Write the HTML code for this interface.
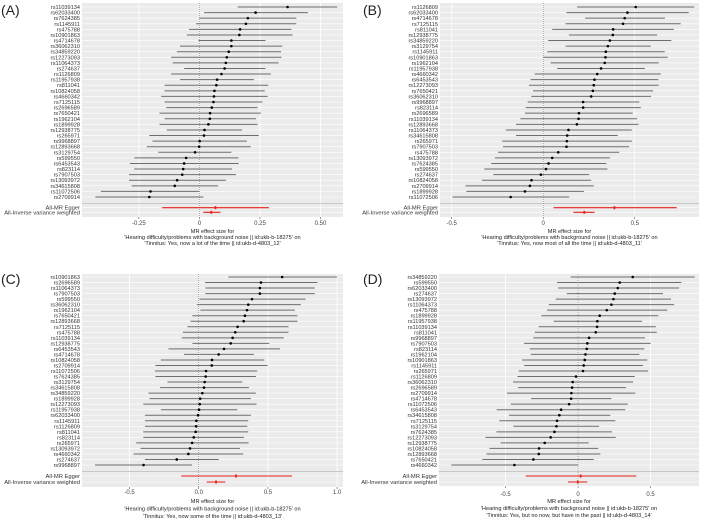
<!DOCTYPE html>
<html><head><meta charset="utf-8"><style>
body{margin:0;background:#fff;width:702px;height:523px;overflow:hidden}
svg{display:block}
text{font-family:"Liberation Sans",sans-serif}
</style></head><body>
<svg id="fig" width="702" height="523"></svg>
<script>
const snpsA=["rs11039134","rs62033400","rs7624385","rs1145911","rs475788","rs10901863","rs4714678","rs36062310","rs34859220","rs12273093","rs11064373","rs274637","rs1126809","rs11957938","rs811041","rs10824058","rs4660342","rs7125115","rs2696589","rs7650421","rs1962104","rs1899928","rs12938775","rs265971","rs9968897","rs12893668","rs3129754","rs599550","rs6453543","rs823114","rs7907503","rs13093972","rs34615808","rs11072506","rs2709914"];
const estA=[0.364,0.232,0.2,0.192,0.168,0.165,0.132,0.132,0.121,0.113,0.109,0.104,0.091,0.073,0.07,0.062,0.06,0.058,0.051,0.044,0.043,0.037,0.021,0.019,0.001,-0.001,-0.018,-0.055,-0.063,-0.067,-0.071,-0.092,-0.102,-0.202,-0.207];
const loA=[0.158,0.019,0,-0.014,-0.043,-0.052,-0.004,-0.08,-0.093,-0.117,-0.111,-0.063,-0.117,-0.08,-0.144,-0.144,-0.158,-0.144,-0.137,-0.165,-0.144,-0.165,-0.135,-0.207,-0.194,-0.217,-0.17,-0.269,-0.287,-0.269,-0.291,-0.291,-0.28,-0.407,-0.43];
const hiA=[0.569,0.448,0.4,0.4,0.38,0.385,0.273,0.342,0.337,0.339,0.327,0.273,0.295,0.225,0.284,0.27,0.282,0.26,0.24,0.254,0.234,0.24,0.176,0.245,0.196,0.212,0.132,0.161,0.162,0.135,0.151,0.109,0.077,0,0.016];
const sumA=[0.066,0.049], sumLoA=[-0.154,0.016], sumHiA=[0.287,0.087];
const ticksA=[-0.25,0,0.25,0.5], tickLabA=["-0.25","0","0.25","0.50"];

const snpsB=["rs1126809","rs62033400","rs4714678","rs7125115","rs811041","rs12938775","rs34859220","rs3129754","rs1145911","rs10901863","rs1962104","rs11957938","rs4660342","rs6453543","rs12273093","rs7650421","rs36062310","rs9968897","rs823114","rs2696589","rs11039134","rs12893668","rs11064373","rs34615808","rs265971","rs7907503","rs475788","rs13093972","rs7624385","rs599550","rs274637","rs10824058","rs2709914","rs1899928","rs11072506"];
const estB=[0.505,0.46,0.445,0.436,0.382,0.38,0.364,0.353,0.342,0.34,0.336,0.316,0.295,0.28,0.276,0.271,0.262,0.218,0.218,0.195,0.193,0.184,0.138,0.131,0.129,0.127,0.082,0.049,0.029,0.015,-0.013,-0.064,-0.073,-0.1,-0.178];
const loB=[0.185,0.127,0.229,0.122,0.049,0.14,0.027,0.122,0.022,0,0.04,0.076,-0.047,-0.069,-0.078,-0.056,-0.065,-0.085,-0.096,-0.1,-0.125,-0.149,-0.204,-0.149,-0.224,-0.22,-0.247,-0.264,-0.284,-0.322,-0.273,-0.335,-0.425,-0.42,-0.496];
const hiB=[0.825,0.795,0.665,0.751,0.713,0.622,0.7,0.587,0.664,0.68,0.631,0.555,0.642,0.629,0.631,0.6,0.589,0.525,0.533,0.489,0.513,0.52,0.484,0.407,0.484,0.469,0.415,0.364,0.345,0.351,0.251,0.262,0.276,0.222,0.142];
const sumB=[0.389,0.224], sumLoB=[0.056,0.165], sumHiB=[0.729,0.28];
const ticksB=[-0.5,0,0.5], tickLabB=["-0.5","0","0.5"];

const snpsC=["rs10901863","rs2696589","rs11064373","rs7907503","rs599550","rs36062310","rs1962104","rs7650421","rs12893668","rs7125115","rs475788","rs11039134","rs12938775","rs6453543","rs4714678","rs10824058","rs2709914","rs11072506","rs7624385","rs3129754","rs34615808","rs34859220","rs1899928","rs12273093","rs11957938","rs62033400","rs1145911","rs1126809","rs811041","rs823114","rs265971","rs13093972","rs4660342","rs274637","rs9968897"];
const estC=[0.603,0.45,0.442,0.442,0.385,0.358,0.349,0.334,0.325,0.281,0.264,0.245,0.231,0.183,0.144,0.096,0.094,0.053,0.05,0.043,0.038,0.026,0.01,0.007,0.002,-0.005,-0.017,-0.019,-0.022,-0.036,-0.048,-0.063,-0.075,-0.159,-0.399];
const loC=[0.214,0.046,0.048,0.048,0.005,-0.014,0.012,-0.046,-0.06,-0.082,-0.115,-0.123,-0.046,-0.219,-0.106,-0.274,-0.313,-0.317,-0.313,-0.226,-0.279,-0.363,-0.356,-0.401,-0.274,-0.389,-0.389,-0.389,-0.401,-0.401,-0.452,-0.421,-0.471,-0.389,-0.75];
const hiC=[1.0,0.858,0.839,0.839,0.772,0.738,0.695,0.714,0.714,0.649,0.649,0.615,0.51,0.587,0.399,0.474,0.498,0.423,0.413,0.315,0.363,0.413,0.377,0.418,0.279,0.377,0.358,0.351,0.358,0.327,0.361,0.298,0.322,0.144,-0.048];
const sumC=[0.269,0.125], sumLoC=[-0.127,0.058], sumHiC=[0.675,0.192];
const ticksC=[-0.5,0,0.5,1.0], tickLabC=["-0.5","0.0","0.5","1.0"];

const snpsD=["rs34859220","rs599550","rs62033400","rs274637","rs13093972","rs11064373","rs475788","rs1899928","rs11957938","rs11039134","rs811041","rs9968897","rs7907503","rs823114","rs1962104","rs10901863","rs1145911","rs265971","rs1126809","rs36062310","rs2696589","rs2709914","rs4714678","rs11072506","rs6453543","rs34615808","rs7125115","rs3129754","rs7624385","rs12273093","rs12938775","rs10824058","rs12893668","rs7650421","rs4660342"];
const estD=[0.377,0.287,0.274,0.253,0.244,0.23,0.198,0.149,0.133,0.131,0.122,0.076,0.064,0.06,0.051,0.046,0.039,0.034,-0.014,-0.037,-0.041,-0.046,-0.048,-0.062,-0.117,-0.129,-0.145,-0.149,-0.163,-0.189,-0.23,-0.269,-0.271,-0.308,-0.439];
const loD=[-0.051,-0.145,-0.138,-0.078,-0.154,-0.202,-0.214,-0.253,-0.168,-0.271,-0.299,-0.308,-0.372,-0.333,-0.326,-0.386,-0.372,-0.409,-0.418,-0.448,-0.414,-0.49,-0.324,-0.464,-0.561,-0.476,-0.543,-0.446,-0.563,-0.639,-0.533,-0.611,-0.632,-0.66,-0.874];
const hiD=[0.805,0.713,0.697,0.586,0.641,0.662,0.616,0.554,0.441,0.536,0.543,0.462,0.501,0.457,0.423,0.478,0.448,0.483,0.391,0.379,0.331,0.395,0.23,0.343,0.326,0.223,0.257,0.145,0.234,0.26,0.074,0.14,0.154,0.108,0];
const sumD=[0.018,-0.002], sumLoD=[-0.361,-0.069], sumHiD=[0.402,0.064];
const ticksD=[-0.5,0,0.5], tickLabD=["-0.5","0","0.5"];

const sumNames=["All-MR Egger","All-Inverse variance weighted"];
const outcomes=["'Tinnitus: Yes, now a lot of the time || id:ukb-d-4803_12'","'Tinnitus: Yes, now most of all the time || id:ukb-d-4803_11'","'Tinnitus: Yes, now some of the time || id:ukb-d-4803_13'","'Tinnitus: Yes, but no now, but have in the past || id:ukb-d-4803_14'"];
const panelLetters=["(A)","(B)","(C)","(D)"];

const NS="http://www.w3.org/2000/svg";
const svg=document.getElementById('fig');
function mk(tag,attrs,parent){const e=document.createElementNS(NS,tag);for(const k in attrs)e.setAttribute(k,attrs[k]);(parent||svg).appendChild(e);return e;}

function panel(idx,g,snps,est,lo,hi,sum,sumLo,sumHi,ticks,tickLab){
  const grp=mk('g',{});
  
  
  const x=v=>g.x0+(v-g.d0)/(g.d1-g.d0)*(g.x1-g.x0);
  const n=snps.length, step=(g.yl-g.yf)/(n-1);
  const bg=mk('rect',{x:g.x0,y:g.top,width:g.x1-g.x0,height:g.bot-g.top,fill:'#ebebeb'},grp);
  
  
  ticks.forEach(t=>mk('line',{x1:x(t),x2:x(t),y1:g.top,y2:g.bot,stroke:'#fff','stroke-width':0.8},grp));
  const rowY=i=>g.yf+i*step;
  const sY=[g.yl+g.s1,g.yl+g.s2];
  for(let i=0;i<n;i++)mk('line',{x1:g.x0,x2:g.x1,y1:rowY(i),y2:rowY(i),stroke:'#fff','stroke-width':0.6},grp);
  sY.forEach(y=>mk('line',{x1:g.x0,x2:g.x1,y1:y,y2:y,stroke:'#fff','stroke-width':0.6},grp));
  const sep=(g.yl+sY[0])/2+1;
  mk('line',{x1:g.x0,x2:g.x1,y1:sep,y2:sep,stroke:'#bbb','stroke-width':0.8},grp);
  mk('line',{x1:x(0),x2:x(0),y1:g.top,y2:g.bot,stroke:'#777','stroke-width':0.6,'stroke-dasharray':'1,1'},grp);
  for(let i=0;i<n;i++){
    const y=rowY(i);
    const bar=mk('line',{x1:x(lo[i]),x2:x(hi[i]),y1:y,y2:y,stroke:'#6e6e6e','stroke-width':1},grp);
    
    
    const pt=mk('circle',{cx:x(est[i]),cy:y,r:1.3,fill:'#000'},grp);
    
    
    const lb=mk('text',{x:g.x0-2,y:y+2,'text-anchor':'end','font-size':5.6,fill:'#333'},grp);
    lb.textContent=snps[i];
    
    
  }
  for(let j=0;j<2;j++){
    const y=sY[j];
    const sb=mk('line',{x1:x(sumLo[j]),x2:x(sumHi[j]),y1:y,y2:y,stroke:'#e8231f','stroke-width':1.1},grp);
    
    
    const sp=mk('rect',{x:x(sum[j])-0.9,y:y-1.5,width:1.8,height:3,fill:'#e8231f'},grp);
    
    
    const sl=mk('text',{x:g.x0-2,y:y+2,'text-anchor':'end','font-size':5.8,fill:'#333'},grp);
    sl.textContent=sumNames[j];
    
    
  }
  ticks.forEach((t,k)=>{
    mk('line',{x1:x(t),x2:x(t),y1:g.bot,y2:g.bot+2,stroke:'#333','stroke-width':0.5},grp);
    const tl=mk('text',{x:x(t),y:g.tickY,'text-anchor':'middle','font-size':6,fill:'#444'},grp);
    tl.textContent=tickLab[k];
    
    
  });
  const cx=(g.x0+g.x1)/2;
  const lines=["MR effect size for","'Hearing difficulty/problems with background noise || id:ukb-b-18275' on",outcomes[idx]];
  lines.forEach((s,k)=>{
    const t=mk('text',{x:cx,y:g.titY+k*g.titStep,'text-anchor':'middle','font-size':5.6,fill:'#222'},grp);
    t.textContent=s;
    
    
  });
  const pl=mk('text',{x:g.lx,y:g.ly,'font-size':14,fill:'#222'},grp);
  pl.textContent=panelLetters[idx];
  
  
}

panel(0,{x0:82,x1:343,d0:-0.485,d1:0.593,top:3,bot:217,yf:7,yl:197,s1:10.7,s2:15.3,tickY:225,titY:233,titStep:6,lx:1,ly:15},snpsA,estA,loA,hiA,sumA,sumLoA,sumHiA,ticksA,tickLabA);
panel(1,{x0:440,x1:699,d0:-0.564,d1:0.851,top:3,bot:217,yf:7,yl:197,s1:10.7,s2:15.3,tickY:225,titY:233,titStep:6,lx:363,ly:15},snpsB,estB,loB,hiB,sumB,sumLoB,sumHiB,ticksB,tickLabB);
panel(2,{x0:82,x1:343,d0:-0.844,d1:1.043,top:274,bot:487,yf:277,yl:465,s1:11,s2:17,tickY:494,titY:503,titStep:7.5,lx:1,ly:284},snpsC,estC,loC,hiC,sumC,sumLoC,sumHiC,ticksC,tickLabC);
panel(3,{x0:439,x1:699,d0:-0.959,d1:0.834,top:274,bot:486,yf:277,yl:465,s1:11,s2:17,tickY:496,titY:503,titStep:7,lx:363,ly:284},snpsD,estD,loD,hiD,sumD,sumLoD,sumHiD,ticksD,tickLabD);
</script>
</body></html>
